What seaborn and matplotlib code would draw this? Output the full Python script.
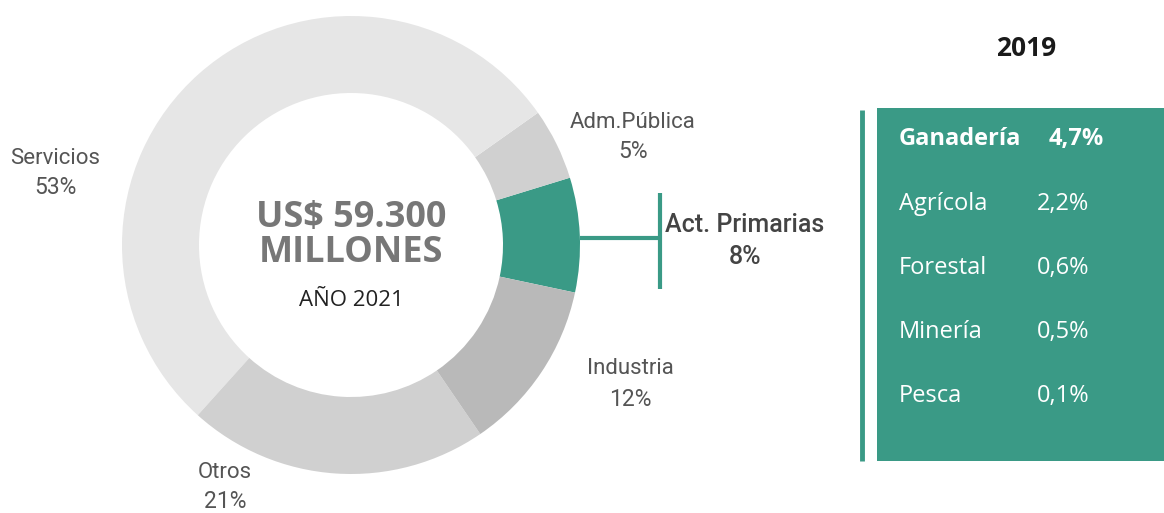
import matplotlib
matplotlib.use("Agg")
import matplotlib.pyplot as plt
import matplotlib.patches as mpatches
import seaborn as sns

# data
sectors = ['Act. Primarias', 'Adm.Pública', 'Servicios', 'Otros', 'Industria']
shares = [8, 5, 53, 21, 12]
sector_colors = ['#3a9a86', '#d0d0d0', '#e6e6e6', '#d0d0d0', '#b9b9b9']

sub_sectors = ['Ganadería', 'Agrícola', 'Forestal', 'Minería', 'Pesca']
sub_values = ['4,7%', '2,2%', '0,6%', '0,5%', '0,1%']

GREEN = '#3a9a86'
W, H = 1164, 513
GEO = ['Open Sans', 'DejaVu Sans']

sns.set_theme(style="white")
plt.rcParams['font.family'] = ['Roboto', 'DejaVu Sans']

fig = plt.figure(figsize=(W / 100, H / 100), dpi=100)
ax = fig.add_axes([0, 0, 1, 1])

def Y(ypx):
    # pixel row (top-down) -> data y (bottom-up)
    return H - ypx

cx, cy, R = 351, Y(245), 229
ax.pie(shares, colors=sector_colors, startangle=-12, counterclock=True,
       center=(cx, cy), radius=R,
       wedgeprops=dict(width=R - 152, linewidth=0))

ax.set_xlim(0, W)
ax.set_ylim(0, H)
ax.set_aspect('equal')
ax.axis('off')

# center text
ax.text(cx, Y(218), 'US$ 59.300', ha='center', va='center', fontsize=26,
        fontweight='bold', color='#777777', family=GEO)
ax.text(cx, Y(253), 'MILLONES', ha='center', va='center', fontsize=26,
        fontweight='bold', color='#777777', family=GEO)
ax.text(cx, Y(300), 'AÑO 2021', ha='center', va='center', fontsize=16,
        color='#222222', family=GEO)

# sector labels
label_pos = {
    'Adm.Pública': (633, 122),
    'Servicios': (55, 158),
    'Otros': (225, 472),
    'Industria': (630, 369),
}
for name, val in zip(sectors, shares):
    if name in label_pos:
        x, y = label_pos[name]
        ax.text(x, Y(y), name, ha='center', va='center', fontsize=16, color='#555555')
        ax.text(x, Y(y + 30), f'{val}%', ha='center', va='center', fontsize=16.5,
                color='#555555')

# highlighted sector with connector
ax.plot([580, 660], [Y(238), Y(238)], color=GREEN, lw=3, solid_capstyle='butt')
ax.plot([660, 660], [Y(193), Y(289)], color=GREEN, lw=3, solid_capstyle='butt')
ax.text(665, Y(225), sectors[0], ha='left', va='center', fontsize=18,
        color='#444444', fontweight='medium')
ax.text(745, Y(257), f'{shares[0]}%', ha='center', va='center', fontsize=18,
        color='#444444', fontweight='medium')

# right panel
ax.text(1026, Y(48), '2019', ha='center', va='center', fontsize=19,
        fontweight='bold', color='#1a1a1a', family=GEO)
ax.plot([862, 862], [Y(110), Y(461)], color=GREEN, lw=3.5, solid_capstyle='butt')
ax.add_patch(mpatches.Rectangle((877, Y(461)), W - 877, 353, color=GREEN, lw=0))

row_y = [139, 204, 268, 332, 396]
for i, (name, val) in enumerate(zip(sub_sectors, sub_values)):
    bold = i == 0
    fw = 'bold' if bold else 'normal'
    fs = 17 if bold else 17
    ax.text(899, Y(row_y[i]), name, ha='left', va='center', fontsize=fs,
            fontweight=fw, color='white', family=GEO)
    ax.text(1076 if bold else 1063, Y(row_y[i]), val, ha='center', va='center',
            fontsize=fs, fontweight=fw, color='white', family=GEO)

fig.savefig('out.png', dpi=100)
